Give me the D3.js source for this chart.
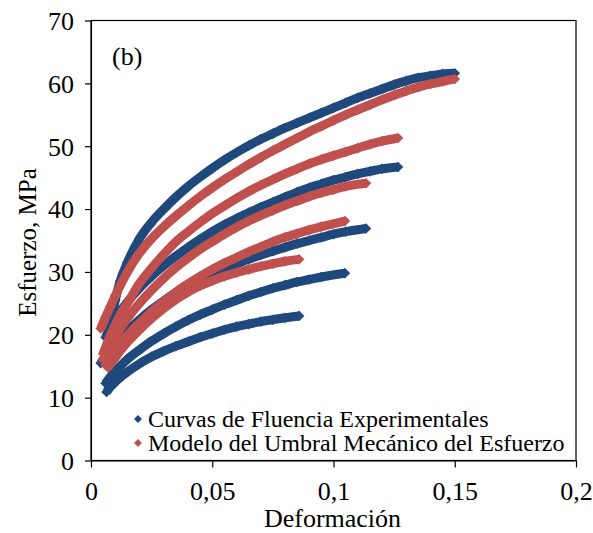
<!DOCTYPE html>
<html>
<head>
<meta charset="utf-8">
<script src="https://cdn.jsdelivr.net/npm/d3@7"></script>
<style>
  html, body { margin: 0; padding: 0; background: #fff; }
  svg { display: block; }
  text { font-family: "Liberation Serif", "Times New Roman", serif; fill: #000; }
</style>
</head>
<body>
<svg id="chart" width="593" height="533"></svg>
<script>
// Flow curves: strain (Deformación) vs stress (Esfuerzo, MPa), five tests.
// Experimental curves
const expStrain = [
  [0.0085,0.010,0.012,0.015,0.020,0.025,0.030,0.035,0.040,0.045,0.050,0.055,0.060,0.065,0.070,0.075,0.080,0.085,0.090,0.095,0.100,0.105,0.110,0.115,0.120,0.125,0.130,0.135,0.140,0.145,0.150],
  [0.006,0.008,0.010,0.012,0.015,0.020,0.025,0.030,0.035,0.040,0.045,0.050,0.055,0.060,0.065,0.070,0.075,0.080,0.085,0.090,0.095,0.100,0.105,0.110,0.115,0.120,0.1266],
  [0.004,0.006,0.008,0.010,0.012,0.015,0.020,0.025,0.030,0.035,0.040,0.045,0.050,0.055,0.060,0.065,0.070,0.075,0.080,0.085,0.090,0.095,0.100,0.105,0.1134],
  [0.006,0.008,0.010,0.012,0.015,0.020,0.025,0.030,0.035,0.040,0.045,0.050,0.055,0.060,0.065,0.070,0.075,0.080,0.085,0.090,0.095,0.1047],
  [0.0064,0.008,0.010,0.012,0.015,0.020,0.025,0.030,0.035,0.040,0.045,0.050,0.055,0.060,0.065,0.070,0.075,0.080,0.0858]
];
const expStress = [
  [22.5,25.5,28.5,31.5,35.3,37.9,40.0,41.9,43.6,45.1,46.5,47.8,49.0,50.1,51.1,52.0,52.9,53.7,54.5,55.3,56.1,56.9,57.7,58.4,59.1,59.8,60.4,60.9,61.2,61.5,61.6],
  [19.6,21.2,22.5,23.7,25.2,27.4,29.3,31.0,32.5,33.9,35.2,36.4,37.5,38.5,39.4,40.3,41.1,41.9,42.7,43.4,44.0,44.6,45.1,45.6,46.0,46.4,46.7],
  [15.5,16.6,17.6,18.5,19.4,20.6,22.4,24.0,25.4,26.7,27.8,28.8,29.7,30.5,31.3,32.0,32.7,33.3,33.9,34.5,35.0,35.5,36.0,36.4,36.9],
  [12.3,13.3,14.2,15.0,16.1,17.6,19.0,20.2,21.3,22.3,23.2,24.0,24.8,25.5,26.2,26.8,27.4,27.9,28.4,28.8,29.2,29.8],
  [10.9,11.7,12.5,13.2,14.1,15.4,16.5,17.4,18.2,18.9,19.6,20.2,20.8,21.3,21.7,22.1,22.4,22.7,23.0]
];
// Mechanical threshold stress model
const modelStrain = [
  [0.004,0.006,0.008,0.010,0.012,0.015,0.020,0.025,0.030,0.035,0.040,0.045,0.050,0.055,0.060,0.065,0.070,0.075,0.080,0.085,0.090,0.095,0.100,0.105,0.110,0.115,0.120,0.125,0.130,0.135,0.140,0.145,0.150],
  [0.005,0.007,0.009,0.011,0.013,0.015,0.020,0.025,0.030,0.035,0.040,0.045,0.050,0.055,0.060,0.065,0.070,0.075,0.080,0.085,0.090,0.095,0.100,0.105,0.110,0.115,0.120,0.1266],
  [0.005,0.007,0.009,0.011,0.013,0.015,0.020,0.025,0.030,0.035,0.040,0.045,0.050,0.055,0.060,0.065,0.070,0.075,0.080,0.085,0.090,0.095,0.100,0.105,0.1134],
  [0.006,0.008,0.010,0.012,0.015,0.020,0.025,0.030,0.035,0.040,0.045,0.050,0.055,0.060,0.065,0.070,0.075,0.080,0.085,0.090,0.095,0.1047],
  [0.007,0.009,0.011,0.013,0.015,0.020,0.025,0.030,0.035,0.040,0.045,0.050,0.055,0.060,0.065,0.070,0.075,0.080,0.0858]
];
const modelStress = [
  [21.0,22.8,24.5,26.2,27.8,30.0,33.0,35.3,37.2,38.9,40.5,42.0,43.4,44.7,45.9,47.1,48.2,49.3,50.3,51.3,52.3,53.2,54.1,55.0,55.8,56.6,57.4,58.1,58.8,59.4,59.9,60.3,60.7],
  [17.0,19.0,20.8,22.4,23.8,25.0,28.2,30.6,32.8,34.8,36.4,37.9,39.3,40.5,41.7,42.8,43.8,44.7,45.6,46.4,47.2,47.9,48.5,49.1,49.7,50.3,50.8,51.3],
  [16.0,17.6,19.0,20.3,21.5,22.6,25.0,27.1,29.0,30.7,32.2,33.6,34.8,36.0,37.1,38.1,39.0,39.8,40.6,41.3,42.0,42.6,43.1,43.6,44.1],
  [15.2,16.4,17.5,18.5,19.9,21.9,23.7,25.3,26.8,28.1,29.3,30.4,31.4,32.3,33.2,34.0,34.8,35.5,36.1,36.7,37.2,38.1],
  [14.8,15.9,16.9,17.9,18.8,20.8,22.6,24.2,25.6,26.8,27.8,28.6,29.3,29.9,30.4,30.9,31.3,31.7,32.0]
];

const seriesNames = ["Curvas de Fluencia Experimentales", "Modelo del Umbral Mecánico del Esfuerzo"];
const seriesColors = ["#1F497D", "#C0504D"];
const xTicks = [0, 0.05, 0.1, 0.15, 0.2];
const xTickLabels = ["0", "0,05", "0,1", "0,15", "0,2"];
const yTicks = [0, 10, 20, 30, 40, 50, 60, 70];
const xTitle = "Deformación";
const yTitle = "Esfuerzo, MPa";
const panelLabel = "(b)";

const W = 593, H = 533;
const margin = { left: 91, right: 17, top: 20.5, bottom: 72.5 };
const pw = W - margin.left - margin.right;
const ph = H - margin.top - margin.bottom;

const svg = d3.select("#chart");
const g = svg.append("g").attr("transform", `translate(${margin.left},${margin.top})`);

const x = d3.scaleLinear().domain([0, 0.2]).range([0, pw]);
const y = d3.scaleLinear().domain([0, 70]).range([ph, 0]);

// plot frame
g.append("rect").attr("x", 0).attr("y", 0).attr("width", pw).attr("height", ph)
  .attr("fill", "none").attr("stroke", "#000").attr("stroke-width", 1.2);

// axes
const xAxis = d3.axisBottom(x).tickValues(xTicks).tickSize(7).tickSizeOuter(0)
  .tickFormat((d, i) => xTickLabels[i]);
const yAxis = d3.axisLeft(y).tickValues(yTicks).tickSize(6).tickSizeOuter(0);

const gx = g.append("g").attr("transform", `translate(0,${ph})`).call(xAxis);
const gy = g.append("g").call(yAxis);
[gx, gy].forEach(a => {
  a.select(".domain").attr("stroke", "#000").attr("stroke-width", 1.2);
  a.selectAll(".tick line").attr("stroke", "#000").attr("stroke-width", 1.2);
  a.selectAll(".tick text").style("font-family", '"Liberation Serif", serif')
    .style("font-size", "26px").attr("fill", "#000");
});
gx.selectAll(".tick text").attr("dy", "0").attr("y", 39);
gy.selectAll(".tick text").attr("x", -17).attr("dy", "0.34em");

// axis titles
svg.append("text").attr("x", margin.left + pw / 2 - 1).attr("y", 527)
  .attr("text-anchor", "middle").style("font-size", "26px").text(xTitle);
svg.append("text").attr("transform", `translate(36,${margin.top + ph / 2 + 2}) rotate(-90)`)
  .attr("text-anchor", "middle").style("font-size", "25px").text(yTitle);

// panel label
g.append("text").attr("x", 21).attr("y", 44).style("font-size", "26px").text(panelLabel);

// curves: dense diamond markers joined into a band
const line = d3.line().x(d => x(d[0])).y(d => y(d[1])).curve(d3.curveMonotoneX);
const diamond = d3.symbol().type(d3.symbolDiamond2).size(72);

function drawSeries(strainArr, stressArr, color) {
  strainArr.forEach((xs, k) => {
    const pts = xs.map((v, i) => [v, stressArr[k][i]]);
    const cg = g.append("g");
    cg.append("path").datum(pts).attr("d", line)
      .attr("fill", "none").attr("stroke", color).attr("stroke-width", 9)
      .attr("stroke-linecap", "butt").attr("stroke-linejoin", "round");
    cg.selectAll("path.m").data(pts).join("path").attr("class", "m")
      .attr("transform", d => `translate(${x(d[0])},${y(d[1])})`)
      .attr("d", diamond).attr("fill", color);
  });
}
drawSeries(expStrain, expStress, seriesColors[0]);
drawSeries(modelStrain, modelStress, seriesColors[1]);

// legend
const legend = g.append("g").attr("transform", `translate(${138 - margin.left},${419 - margin.top})`);
seriesNames.forEach((name, i) => {
  const row = legend.append("g").attr("transform", `translate(0,${i * 24})`);
  row.append("path").attr("d", d3.symbol().type(d3.symbolDiamond2).size(40))
    .attr("fill", seriesColors[i]);
  row.append("text").attr("x", 10).attr("y", 8).style("font-size", "24px").text(name);
});
</script>
</body>
</html>
